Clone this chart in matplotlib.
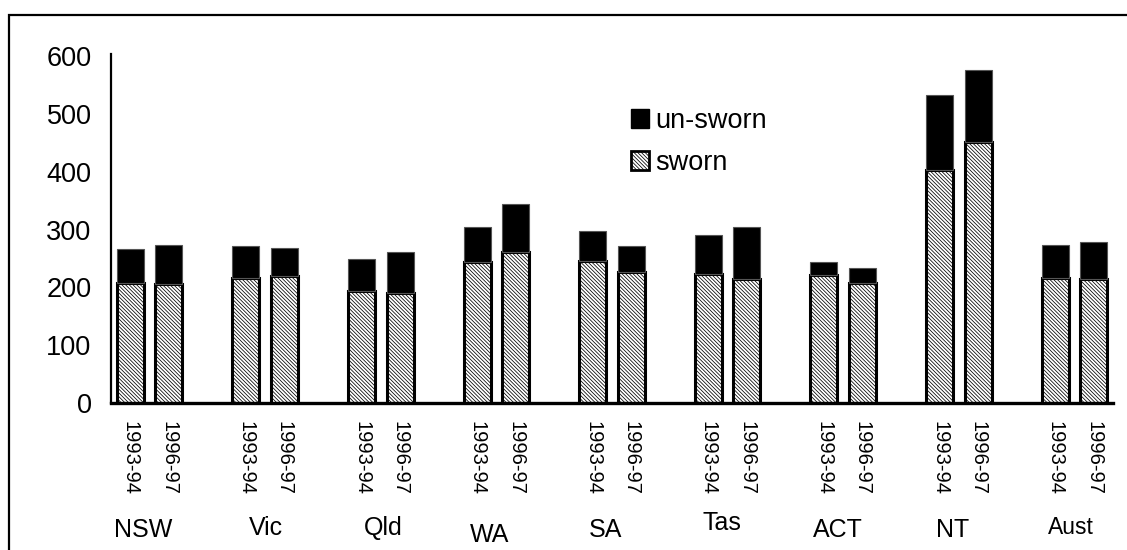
import matplotlib
matplotlib.use("Agg")
import matplotlib.pyplot as plt
from matplotlib.patches import Patch, Rectangle
from matplotlib import font_manager

# --- data -------------------------------------------------------------
jurisdictions = ["NSW", "Vic", "Qld", "WA", "SA", "Tas", "ACT", "NT", "Aust"]
years = ["1993-94", "1996-97"]
sworn_9394 = [208, 217, 193, 244, 246, 224, 221, 404, 216]
sworn_9697 = [206, 219, 190, 262, 226, 215, 207, 452, 215]
unsworn_9394 = [58, 55, 56, 61, 52, 66, 23, 129, 57]
unsworn_9697 = [67, 50, 71, 83, 46, 90, 27, 124, 64]
y_ticks = [0, 100, 200, 300, 400, 500, 600]

# --- fonts ------------------------------------------------------------
plt.rcParams["font.family"] = ["Liberation Sans", "DejaVu Sans"]
plt.rcParams["hatch.linewidth"] = 0.55
installed = {f.name for f in font_manager.fontManager.ttflist}
year_font = "Liberation Sans Narrow" if "Liberation Sans Narrow" in installed else "Liberation Sans"
year_size = 17 if year_font == "Liberation Sans Narrow" else 14.5

W, H = 1127, 550
fig = plt.figure(figsize=(W / 100, H / 100), dpi=100)
ax = fig.add_axes([111 / W, (H - 403) / H, (1113 - 111) / W, (403 - 54) / H])

# each jurisdiction takes three slots: two bars and a spacer
pos_a = [3 * g for g in range(len(jurisdictions))]
pos_b = [3 * g + 1 for g in range(len(jurisdictions))]
bar_w = 0.70

hatch = "\\" * 9
for pos, sw, us in ((pos_a, sworn_9394, unsworn_9394), (pos_b, sworn_9697, unsworn_9697)):
    ax.bar(pos, sw, width=bar_w, color="white", edgecolor="black",
           hatch=hatch, linewidth=2.2, zorder=2)
    ax.bar(pos, us, width=bar_w, bottom=sw, color="black",
           edgecolor="#555555", linewidth=0.8, zorder=2)

ax.set_xlim(-0.5, 3 * len(jurisdictions) - 1.5)
ax.set_ylim(0, 604)
ax.set_yticks(y_ticks)
ax.set_yticklabels([str(v) for v in y_ticks], fontsize=19.5)
ax.tick_params(axis="y", length=0, pad=14)

ticks = sorted(pos_a + pos_b)
labels = [years[t % 3] for t in ticks]
ax.set_xticks(ticks)
ax.set_xticklabels(labels, rotation=270, fontsize=year_size, family=year_font,
                   va="top", ha="center")
ax.tick_params(axis="x", length=0, pad=13)

for side in ("top", "right"):
    ax.spines[side].set_visible(False)
ax.spines["left"].set_linewidth(1.6)
ax.spines["bottom"].set_linewidth(2.4)
ax.spines["bottom"].set_zorder(3)

# jurisdiction names below the year labels
name_x = [143, 266, 383, 490, 606, 722, 838, 953, 1071]
name_y = [530, 528, 528, 535, 530, 523, 530, 530, 527]
name_size = [18, 18, 18, 18, 18, 18, 18, 18, 16.5]
for name, x, y, s in zip(jurisdictions, name_x, name_y, name_size):
    fig.text(x / W, 1 - y / H, name, fontsize=s, ha="center", va="center")

handles = [Patch(facecolor="black", edgecolor="black"),
           Patch(facecolor="white", edgecolor="black", hatch=hatch, linewidth=2.0)]
ax.legend(handles, ["un-sworn", "sworn"], loc="upper left",
          bbox_to_anchor=(631 / W, 1 - 108 / H), bbox_transform=fig.transFigure,
          frameon=False, fontsize=19.5, handlelength=0.68, handleheight=0.68,
          handletextpad=0.2, labelspacing=0.6, borderpad=0, borderaxespad=0)

# outer frame
fig.patches.append(Rectangle((9 / W, -0.05), 1.2, 1 - 15 / H + 0.05,
                             transform=fig.transFigure, fill=False,
                             edgecolor="black", linewidth=1.6))

fig.savefig("out.png", dpi=100)
